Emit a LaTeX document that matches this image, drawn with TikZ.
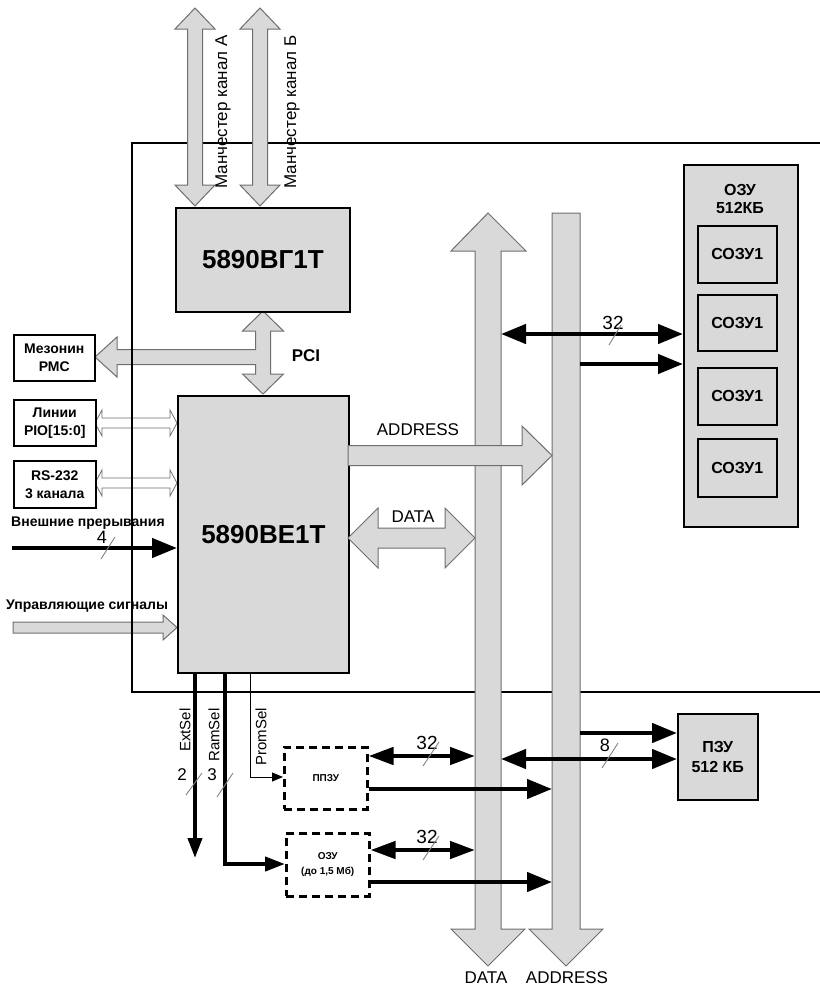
\documentclass[tikz,border=0pt]{standalone}
\usepackage{fontspec}
\setmainfont{Liberation Sans}
\usetikzlibrary{arrows.meta}
\definecolor{boxgray}{RGB}{217,217,217}
\definecolor{edgegray}{RGB}{110,110,110}
\definecolor{slashgray}{RGB}{130,130,130}
\begin{document}
\begin{tikzpicture}[x=1pt,y=-1pt,
  fatarrow/.style={fill=boxgray,draw=edgegray,line width=1pt,line join=miter},
  openarrow/.style={fill=white,draw=edgegray,line width=0.8pt},
  chip/.style={draw=black,line width=1.8pt,fill=boxgray,inner sep=0pt,anchor=north west},
  sidebox/.style={draw=black,line width=1.5pt,fill=white,inner sep=0pt,anchor=north west,align=center,font=\fontsize{14}{18}\selectfont\bfseries},
  dashbox/.style={draw=black,line width=2.5pt,dash pattern=on 8pt off 5pt,fill=white,inner sep=0pt,anchor=north west,align=center},
  sig/.style={line width=4.5pt,-{Triangle[length=25pt,width=19pt]}},
  dsig/.style={line width=4.5pt,{Triangle[length=25pt,width=19pt]}-{Triangle[length=25pt,width=19pt]}},
  slash/.style={draw=slashgray,line width=0.9pt},
  lbl/.style={inner sep=0pt,font=\fontsize{17}{20}\selectfont},
  blbl/.style={inner sep=0pt,font=\fontsize{14}{17}\selectfont\bfseries},
  rlbl/.style={inner sep=0pt,font=\fontsize{15}{18}\selectfont,rotate=90},
]
\useasboundingbox (0,0) rectangle (820,989);

% left-side arrows (under the frame)
\path[fatarrow] (263,311) -- (283.5,331) -- (270.5,331) -- (270.5,374) -- (283.5,374) -- (263,394)
  -- (242.5,374) -- (255.5,374) -- (255.5,364.5) -- (117,364.5) -- (117,377) -- (95,357)
  -- (117,337) -- (117,349.5) -- (255.5,349.5) -- (255.5,331) -- (242.5,331) -- cycle;
\path[openarrow] (95,423) -- (102,410) -- (102,418) -- (170,418) -- (170,410) -- (177,423)
  -- (170,436) -- (170,428) -- (102,428) -- (102,436) -- cycle;
\path[openarrow] (95,483) -- (102,470) -- (102,478) -- (170,478) -- (170,470) -- (177,483)
  -- (170,496) -- (170,488) -- (102,488) -- (102,496) -- cycle;
\path[fatarrow] (13,622) -- (163,622) -- (163,615) -- (177,627.5) -- (163,640) -- (163,633) -- (13,633) -- cycle;

% frame
\draw[line width=1.8pt] (820,143) -- (132,143) -- (132,692) -- (820,692);

% Manchester arrows
\path[fatarrow] (195,8) -- (215,29) -- (202.5,29) -- (202.5,185) -- (215,185) -- (195,206)
  -- (175,185) -- (187.5,185) -- (187.5,29) -- (175,29) -- cycle;
\path[fatarrow] (260,8) -- (280,29) -- (267.5,29) -- (267.5,185) -- (280,185) -- (260,206)
  -- (240,185) -- (252.5,185) -- (252.5,29) -- (240,29) -- cycle;
\node[rlbl,font=\fontsize{17}{20}\selectfont] (mA) at (223,112) {Манчестер канал А};
\node[rlbl,font=\fontsize{17}{20}\selectfont] (mB) at (292,112) {Манчестер канал Б};

% buses
\path[fatarrow] (475,251) -- (451,251) -- (488,213) -- (526,251) -- (501,251) -- (501,929)
  -- (525,929) -- (488,966) -- (451,929) -- (475,929) -- cycle;
\path[fatarrow] (552,213) -- (580,213) -- (580,929) -- (603,929) -- (566,966) -- (529,929) -- (552,929) -- cycle;
\node[lbl] (dbl) at (486,978) {DATA};
\node[lbl] (abl) at (567,978) {ADDRESS};

% chips
\node[chip,minimum width=174pt,minimum height=104pt,font=\fontsize{26}{30}\selectfont\bfseries] (vg) at (175,207) {5890ВГ1Т};
\node[chip,minimum width=171pt,minimum height=277pt,font=\fontsize{26}{30}\selectfont\bfseries] (ve) at (177,395) {5890ВЕ1Т};
\node[inner sep=0pt,font=\fontsize{17}{20}\selectfont\bfseries] (pci) at (306,356) {PCI};

% side boxes
\node[sidebox,minimum width=81pt,minimum height=46pt] (mez) at (13,334) {Мезонин\\РМС};
\node[sidebox,minimum width=82pt,minimum height=46pt] (pio) at (13,399) {Линии\\PIO[15:0]};
\node[sidebox,minimum width=82pt,minimum height=47pt] (rs) at (13,460) {RS-232\\3 канала};

% external inputs
\node[blbl,anchor=west] (vn) at (11,523) {Внешние прерывания};
\coordinate (vnS) at (12,548);
\draw[sig] (vnS) -- (ve.west |- vnS);
\node[lbl,font=\fontsize{18}{20}\selectfont] (n4) at (102,537) {4};
\draw[slash] (101,559) -- (115,537);
\node[blbl,anchor=west] (up) at (6,606) {Управляющие сигналы};

% ADDRESS and DATA from CPU
\path[fatarrow] (348,445.5) -- (522,445.5) -- (522,426) -- (552,455.5) -- (522,485) -- (522,465.5) -- (348,465.5) -- cycle;
\node[lbl] (addl) at (418,430) {ADDRESS};
\path[fatarrow] (348,538) -- (378,508) -- (378,528) -- (445,528) -- (445,508) -- (475,538)
  -- (445,568) -- (445,548) -- (378,548) -- (378,568) -- cycle;
\node[lbl] (datl) at (413,517) {DATA};

% RAM 512KB
\node[chip,line width=1.5pt,minimum width=114pt,minimum height=362pt] (ram) at (683,164) {};
\node[inner sep=0pt,align=center,font=\fontsize{16}{18}\selectfont\bfseries] (ramt) at (740,199) {ОЗУ\\512КБ};
\foreach \i/\y/\h in {1/225/57,2/294/56,3/367/57,4/438/58}{
  \node[chip,line width=1.5pt,minimum width=79pt,minimum height=\h pt,font=\fontsize{16}{18}\selectfont\bfseries] (s\i) at (697,\y) {СОЗУ1};
}
\coordinate (r1) at (501,334);
\coordinate (r2) at (580,364);
\draw[dsig] (r1) -- (ram.west |- r1);
\draw[sig] (r2) -- (ram.west |- r2);
\node[lbl,font=\fontsize{19}{20}\selectfont] (n32a) at (613,323) {32};
\draw[slash] (609,345) -- (621,325);

% PROM 512KB
\node[chip,line width=1.5pt,minimum width=80pt,minimum height=86pt,align=center,font=\fontsize{16}{20}\selectfont\bfseries] (pzu) at (677,713) {ПЗУ\\512 КБ};
\coordinate (p1) at (580,733);
\coordinate (p2) at (501,759);
\draw[sig] (p1) -- (pzu.west |- p1);
\draw[dsig] (p2) -- (pzu.west |- p2);
\node[lbl,font=\fontsize{18}{20}\selectfont] (n8) at (605,745) {8};
\draw[slash] (602,768) -- (618,743);

% external memory
\node[dashbox,minimum width=83pt,minimum height=62pt,font=\fontsize{10}{12}\selectfont\bfseries] (ppzu) at (283,746) {ППЗУ};
\node[dashbox,minimum width=83pt,minimum height=63pt,font=\fontsize{10}{15}\selectfont\bfseries] (ozu) at (285,832) {ОЗУ\\(до 1,5 Мб)};
\coordinate (q1) at (475,756);
\coordinate (q2) at (552,789);
\coordinate (q3) at (475,850);
\coordinate (q4) at (552,882);
\draw[dsig,{Triangle[length=25pt,width=17pt]}-{Triangle[length=25pt,width=17pt]}] (ppzu.east |- q1) -- (q1);
\draw[sig] (ppzu.east |- q2) -- (q2);
\draw[dsig,{Triangle[length=25pt,width=17pt]}-{Triangle[length=25pt,width=17pt]}] (ozu.east |- q3) -- (q3);
\draw[sig] (ozu.east |- q4) -- (q4);
\node[lbl,font=\fontsize{19}{20}\selectfont] (n32b) at (427,743) {32};
\draw[slash] (423,766) -- (439,742);
\node[lbl,font=\fontsize{19}{20}\selectfont] (n32c) at (427,837) {32};
\draw[slash] (423,860) -- (439,836);

% select signals
\coordinate (ext0) at (195,672);
\coordinate (ext1) at (195,858);
\draw[line width=4pt,-{Triangle[length=20pt,width=14pt]}] (ext0) -- (ext1);
\coordinate (ram0) at (225,672);
\coordinate (ram1) at (225,864);
\draw[line width=4pt,-{Triangle[length=20pt,width=14pt]}] (ram0) -- (ram1) -- (ozu.west |- ram1);
\coordinate (pr0) at (250,672);
\coordinate (pr1) at (250,777);
\draw[line width=1pt,-{Triangle[length=11pt,width=9pt]}] (pr0) -- (pr1) -- (ppzu.west |- pr1);
\node[rlbl] (extl) at (185,730) {ExtSel};
\node[rlbl] (raml) at (214,735) {RamSel};
\node[rlbl] (prl) at (261,737) {PromSel};
\node[lbl,font=\fontsize{17}{20}\selectfont] (n2) at (182,775) {2};
\node[lbl,font=\fontsize{17}{20}\selectfont] (n3) at (212,775) {3};
\draw[slash] (186,795) -- (202,773);
\draw[slash] (217,797) -- (233,773);
\end{tikzpicture}
\end{document}
